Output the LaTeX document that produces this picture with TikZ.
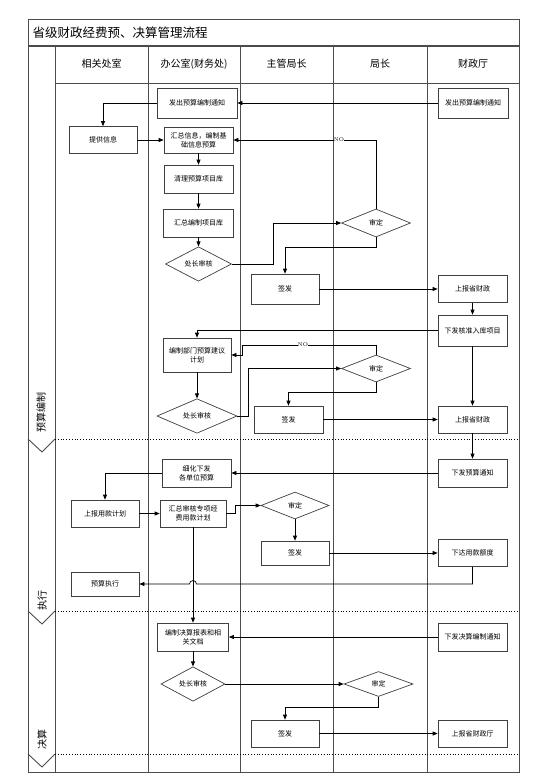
\documentclass[tikz,border=0pt]{standalone}
\usepackage{fontspec}
\newfontfamily\cjk{Noto Sans CJK SC}
\usetikzlibrary{arrows.meta,shapes.geometric}
\begin{document}
\begin{tikzpicture}[x=1pt,y=-1pt,
 box/.style={draw=black!75,line width=0.7pt,fill=white,inner sep=1pt,align=center,font=\cjk\fontsize{7}{9}\selectfont},
 dia/.style={diamond,draw=black!75,line width=0.7pt,fill=white,inner sep=0pt,align=center,font=\cjk\fontsize{7}{9}\selectfont},
 arr/.style={draw=black,line width=0.7pt,-{Triangle[length=5pt,width=4pt]}},
 ln/.style={draw=black,line width=0.7pt},
 frame/.style={draw=black!70,line width=0.9pt},
 sepline/.style={draw=black,line width=0.8pt,dotted},
 hdr/.style={font=\cjk\fontsize{10}{12}\selectfont},
 phase/.style={font=\cjk\fontsize{10}{12}\selectfont,rotate=90},
 nolab/.style={font=\fontsize{5.5}{6}\selectfont,fill=white,inner sep=0.3pt}]
\useasboundingbox (0,0) rectangle (542,781);
\fill[white] (0,0) rectangle (542,781);
% frame
\draw[frame] (28,19) rectangle (519,772);
\draw[frame,line width=1.2pt] (28,46) -- (519,46);
\draw[frame] (55,83) -- (519,83);
\foreach \x in {55,148,240,333,427} \draw[frame] (\x,46) -- (\x,772);
\foreach \y in {439,611,754} {
  \draw[sepline] (55,\y) -- (519,\y);
  \draw[frame] (28,\y) -- (42,\y+13) -- (55,\y);
}
% title and headers
\node[anchor=west,font=\cjk\fontsize{12.5}{14}\selectfont] (title) at (29,33) {省级财政经费预、决算管理流程};
\node[hdr] (h1) at (101.5,64) {相关处室};
\node[hdr] (h2) at (194,64) {办公室(财务处)};
\node[hdr] (h3) at (286.5,64) {主管局长};
\node[hdr] (h4) at (380,64) {局长};
\node[hdr] (h5) at (473,64) {财政厅};
\node[phase] (ph1) at (41,412) {预算编制};
\node[phase] (ph2) at (42,600) {执行};
\node[phase] (ph3) at (42,739) {决算};
% phase 1 nodes
\node[box,minimum width=80pt,minimum height=30pt] (n1) at (197,103) {发出预算编制通知};
\node[box,minimum width=70pt,minimum height=30pt] (f1) at (473,103) {发出预算编制通知};
\node[box,minimum width=68pt,minimum height=27pt] (p1) at (103,140) {提供信息};
\node[box,minimum width=69pt,minimum height=26pt] (n2) at (198.5,140) {汇总信息，编制基\\础信息预算};
\node[box,minimum width=69pt,minimum height=28pt] (n3) at (198.5,179) {清理预算项目库};
\node[box,minimum width=70pt,minimum height=28pt] (n4) at (198.5,223) {汇总编制项目库};
\node[dia,minimum width=66pt,minimum height=28pt] (d1) at (198.5,264) {处长审核};
\node[dia,minimum width=69pt,minimum height=28pt] (j1) at (376,223) {审定};
\node[box,minimum width=68pt,minimum height=30pt] (s1) at (285,289) {签发};
\node[box,minimum width=69pt,minimum height=27pt] (f2) at (472.5,289) {上报省财政};
\node[box,minimum width=69pt,minimum height=31pt] (f3) at (472.5,330.5) {下发核准入库项目};
\node[box,minimum width=68pt,minimum height=34pt] (n5) at (197,355) {编制部门预算建议\\计划};
\node[dia,minimum width=80pt,minimum height=32pt] (d2) at (197,416) {处长审核};
\node[dia,minimum width=69pt,minimum height=27pt] (j2) at (376,368.5) {审定};
\node[box,minimum width=69pt,minimum height=27pt] (s2) at (288.5,419.5) {签发};
\node[box,minimum width=69pt,minimum height=27pt] (f4) at (472.5,419.5) {上报省财政};
% phase 2 nodes
\node[box,minimum width=69pt,minimum height=28pt] (f5) at (472.5,473) {下发预算通知};
\node[box,minimum width=69pt,minimum height=28pt] (n6) at (196.5,473) {细化下发\\各单位预算};
\node[box,minimum width=68pt,minimum height=27pt] (p2) at (105,513.5) {上报用款计划};
\node[box,minimum width=66pt,minimum height=27pt] (n7) at (193,513.5) {汇总审核专项经\\费用款计划};
\node[dia,minimum width=68pt,minimum height=27pt] (j3) at (295,505.5) {审定};
\node[box,minimum width=68pt,minimum height=24pt] (s3) at (295,553) {签发};
\node[box,minimum width=69pt,minimum height=27pt] (f6) at (472.5,553) {下达用款额度};
\node[box,minimum width=68pt,minimum height=24pt] (p3) at (105,584) {预算执行};
% phase 3 nodes
\node[box,minimum width=69pt,minimum height=28pt] (f7) at (472.5,637) {下发决算编制通知};
\node[box,minimum width=71pt,minimum height=28pt] (n8) at (193,637) {编制决算报表和相\\关文档};
\node[dia,minimum width=64pt,minimum height=29pt] (d3) at (193,684) {处长审核};
\node[dia,minimum width=69pt,minimum height=25pt] (j4) at (378.5,684) {审定};
\node[box,minimum width=68pt,minimum height=27pt] (s4) at (285,733.5) {签发};
\node[box,minimum width=69pt,minimum height=27pt] (f8) at (472.5,733.5) {上报省财政厅};
% connectors phase 1
\draw[arr] (f1.west) -- (n1.east);
\draw[arr] (n1.west) -| (p1.north);
\draw[arr] (p1.east) -- (n2.west);
\draw[arr] (n2.south) -- (n3.north);
\draw[arr] (n3.south) -- (n4.north);
\draw[arr] (n4.south) -- (d1.north);
\draw[arr] (d1.east) -- ++(41,0) |- (j1.west);
\draw[arr] (j1.north) |- (n2.east);
\node[nolab] (no1) at (339,140) {NO};
\draw[arr] (j1.south) -- ++(0,10) -| (s1.north);
\draw[arr] (s1.east) -- (f2.west);
\draw[arr] (f2.south) -- (f3.north);
\draw[arr] (f3.west) -| (n5.north);
\coordinate (c13) at (242,345);
\draw[arr] (j2.north) |- (c13) |- (n5.east);
\node[nolab] (no2) at (303,345) {NO};
\draw[arr] (n5.south) -- (d2.north);
\draw[arr] (d2.east) -- ++(11,0) |- (j2.west);
\draw[arr] (j2.south) -- ++(0,10) -| (s2.north);
\draw[arr] (s2.east) -- (f4.west);
\draw[arr] (f3.south) -- (f4.north);
% phase 2
\draw[arr] (f4.south) -- (f5.north);
\draw[arr] (f5.west) -- (n6.east);
\draw[arr] (n6.west) -| (p2.north);
\draw[arr] (p2.east) -- (n7.west);
\draw[arr] (n7.east) -- ++(9,0) |- (j3.west);
\draw[arr] (j3.south) -- (s3.north);
\draw[arr] (s3.east) -- (f6.west);
\coordinate (hopA) at (196.5,584);
\draw[arr] (f6.south) |- (hopA) arc[start angle=0,end angle=-180,radius=3.5] -- (p3.east);
\draw[arr] (n7.south) -- (n8.north);
% phase 3
\draw[arr] (f7.west) -- (n8.east);
\draw[arr] (n8.south) -- (d3.north);
\draw[arr] (d3.east) -- (j4.west);
\draw[arr] (j4.south) -- ++(0,10) -| (s4.north);
\draw[arr] (s4.east) -- (f8.west);
\end{tikzpicture}
\end{document}
